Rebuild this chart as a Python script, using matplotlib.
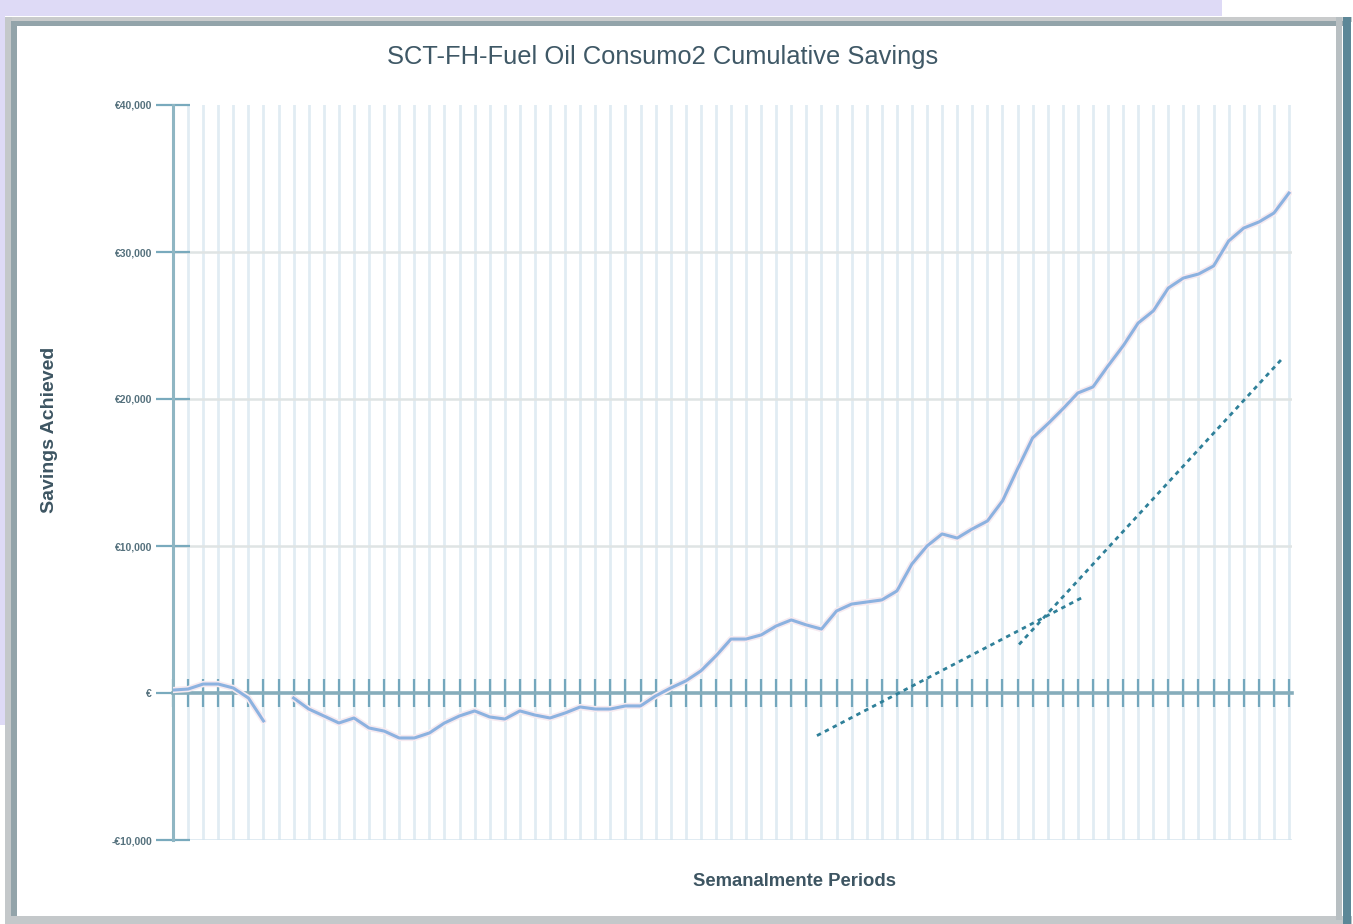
import numpy as np
import matplotlib
matplotlib.use("Agg")
import matplotlib.pyplot as plt
from matplotlib.patches import Rectangle
from matplotlib.ticker import FixedLocator

plt.rcParams['font.family'] = ['Liberation Sans', 'DejaVu Sans']

# Cumulative savings per weekly period (NaN = missing period)
periods = np.arange(75)
savings = [
    200, 270, 610, 610, 340, -340, -1900, np.nan, -340, -1090,
    -1560, -2040, -1700, -2380, -2590, -3060, -3060, -2720, -2040, -1560,
    -1220, -1630, -1770, -1220, -1500, -1700, -1360, -950, -1090, -1090,
    -880, -880, -200, 340, 820, 1500, 2520, 3670, 3670, 3950,
    4560, 4970, 4630, 4350, 5580, 6050, 6190, 6330, 6940, 8780,
    10000, 10820, 10540, 11160, 11700, 13060, 15240, 17350, 18300, 19320,
    20410, 20820, 22250, 23610, 25170, 25990, 27550, 28230, 28500, 29050,
    30750, 31630, 32040, 32650, 34010,
]

# Linear trend segments (period, savings)
trend_a_x = [42.7, 60.3]
trend_a_y = [-2900, 6500]
trend_b_x = [56.1, 73.6]
trend_b_y = [3300, 22800]

y_ticks = [-10000, 0, 10000, 20000, 30000, 40000]
y_tick_labels = ["-€10,000", "€", "€10,000", "€20,000", "€30,000", "€40,000"]

title = "SCT-FH-Fuel Oil Consumo2 Cumulative Savings"
x_label = "Semanalmente Periods"
y_label = "Savings Achieved"

W, H = 1353, 924
fig = plt.figure(figsize=(W / 100, H / 100), dpi=100)
fig.patch.set_facecolor("white")


def px_rect(x, y, w, h, color):
    """Rectangle in pixel coordinates (origin top-left)."""
    fig.add_artist(Rectangle((x / W, 1 - (y + h) / H), w / W, h / H,
                             transform=fig.transFigure, facecolor=color,
                             edgecolor="none", zorder=0))


# Page background band and frame
px_rect(0, 0, 1222, 16, "#dedaf6")
px_rect(0, 0, 5, 725, "#dedaf6")
px_rect(5, 17, 1347, 5, "#c9cbcc")
px_rect(12, 21, 1335, 5, "#93a4aa")
px_rect(5, 17, 7, 906, "#c4c8ca")
px_rect(11, 21, 6, 897, "#93a4aa")
px_rect(5, 916, 1347, 8, "#c4c8ca")
px_rect(1336, 17, 6, 903, "#b8bfc2")
px_rect(1343, 17, 8, 907, "#5c8797")

ax = fig.add_axes([173 / W, 84 / H, (1292 - 173) / W, (840 - 105) / H])
ax.set_facecolor("white")
ax.set_xlim(0, 74.2)
ax.set_ylim(-10000, 40000)

# Grid: light vertical lines per period, light horizontal lines per 10k
for p in periods:
    ax.axvline(p, color="#e1ecf3", lw=2.0, zorder=1)
for v in [10000, 20000, 30000]:
    ax.axhline(v, color="#dfe4e4", lw=1.8, zorder=1)
ax.axhline(-10000, color="#d6e5ef", lw=1.8, zorder=1)

for s in ["top", "right"]:
    ax.spines[s].set_visible(False)
ax.spines["left"].set_color("#8fb6c3")
ax.spines["left"].set_linewidth(2.2)
ax.spines["bottom"].set_position(("data", 0))
ax.spines["bottom"].set_color("#86adbb")
ax.spines["bottom"].set_linewidth(2.6)

ax.xaxis.set_major_locator(FixedLocator(periods))
ax.tick_params(axis="x", direction="inout", length=20, width=1.6,
               color="#74a7bd", labelbottom=False)
ax.set_yticks(y_ticks)
ax.set_yticklabels(y_tick_labels)
ax.tick_params(axis="y", direction="inout", length=24, width=1.6,
               color="#79aabd", labelsize=7.5, labelcolor="#55717d", pad=3)
for lbl in ax.get_yticklabels():
    lbl.set_fontweight("bold")

# Savings line with a soft halo
ax.plot(periods, savings, color="#f6eaf0", lw=4.5, zorder=3, solid_capstyle="round")
ax.plot(periods, savings, color="#8cb2e0", lw=2.2, zorder=4)

# Trend lines
for tx, ty in [(trend_a_x, trend_a_y), (trend_b_x, trend_b_y)]:
    ax.plot(tx, ty, color="#2f8099", lw=2, linestyle=(0, (1.6, 1.6)), zorder=5)

fig.text(663 / W, 1 - 57 / H, title, ha="center", va="center",
         fontsize=18.4, color="#3f5866")
fig.text(795 / W, 1 - 882 / H, x_label, ha="center", va="center",
         fontsize=13.3, fontweight="bold", color="#3d5562")
fig.text(50 / W, 1 - 430 / H, y_label, ha="center", va="center",
         rotation=90, fontsize=14, fontweight="bold", color="#3d5562")

fig.savefig("out.png", dpi=100)
